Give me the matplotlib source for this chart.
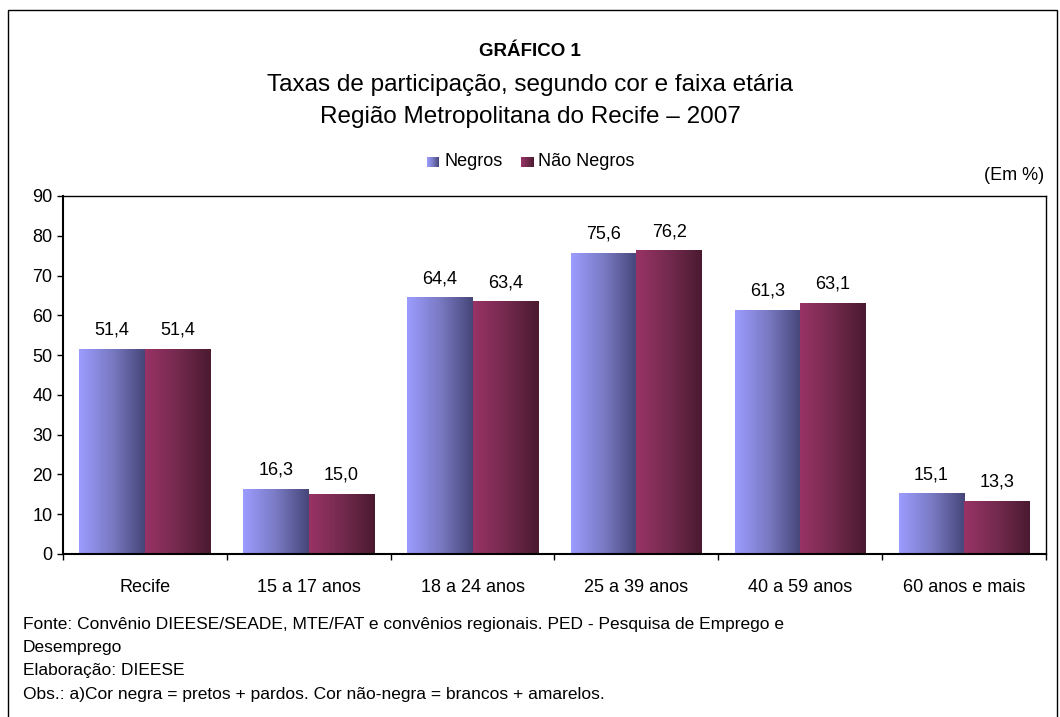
import numpy as np
import matplotlib
matplotlib.use("Agg")
import matplotlib.pyplot as plt
from matplotlib.colors import LinearSegmentedColormap
from matplotlib.patches import Rectangle

plt.rcParams['font.family'] = ['Liberation Sans', 'DejaVu Sans']

categorias = ['Recife', '15 a 17 anos', '18 a 24 anos', '25 a 39 anos', '40 a 59 anos', '60 anos e mais']
negros = [51.4, 16.3, 64.4, 75.6, 61.3, 15.1]
nao_negros = [51.4, 15.0, 63.4, 76.2, 63.1, 13.3]
series = ['Negros', 'Não Negros']
rotulos_y = [0, 10, 20, 30, 40, 50, 60, 70, 80, 90]

cmap_azul = LinearSegmentedColormap.from_list('azul', ['#9c9cff', '#7a7ac4', '#46467a'])
cmap_vinho = LinearSegmentedColormap.from_list('vinho', ['#993366', '#742a4e', '#4a1a30'])

W, H = 1060, 717
fig = plt.figure(figsize=(W/100, H/100), dpi=100)
ax = fig.add_axes([63/W, 1-554/H, 983/W, 358/H])

grad = np.linspace(0, 1, 256).reshape(1, -1)
larg = 0.40
x = np.arange(len(categorias))

def barra_gradiente(ax, x0, h, cmap):
    # barra com gradiente horizontal (estilo Excel)
    ax.imshow(grad, cmap=cmap, aspect='auto', extent=(x0, x0 + larg, 0, h),
              zorder=2, interpolation='bilinear')

for i in range(len(categorias)):
    barra_gradiente(ax, x[i] - larg, negros[i], cmap_azul)
    barra_gradiente(ax, x[i], nao_negros[i], cmap_vinho)
    ax.text(x[i] - larg/2, negros[i] + 4.8, f"{negros[i]:.1f}".replace('.', ','),
            ha='center', va='center', fontsize=13)
    ax.text(x[i] + larg/2, nao_negros[i] + 4.8, f"{nao_negros[i]:.1f}".replace('.', ','),
            ha='center', va='center', fontsize=13)

ax.set_xlim(-0.5, len(categorias) - 0.5)
ax.set_ylim(0, 90)
ax.set_yticks(rotulos_y)
ax.set_yticklabels([str(v) for v in rotulos_y], fontsize=13)
ax.set_xticks(x)
ax.set_xticklabels(categorias, fontsize=13)
ax.tick_params(axis='x', length=0, pad=18)
ax.set_xticks(np.arange(-0.5, len(categorias)), minor=True)
ax.tick_params(axis='x', which='minor', length=4.5, direction='out', width=1)
ax.tick_params(axis='y', length=4.5, direction='out', pad=3, width=1)
for s in ['top', 'right', 'left', 'bottom']:
    ax.spines[s].set_linewidth(1)
ax.spines['left'].set_linewidth(1.5)
ax.spines['bottom'].set_linewidth(1.5)

# títulos
fig.text(0.5, 1-52/H, 'GRÁFICO 1', ha='center', va='center', fontsize=13.5, fontweight='bold')
fig.text(0.5, 1-85/H, 'Taxas de participação, segundo cor e faixa etária', ha='center', va='center', fontsize=17.5)
fig.text(0.5, 1-117/H, 'Região Metropolitana do Recife – 2007', ha='center', va='center', fontsize=17.5)
fig.text(1044/W, 1-176/H, '(Em %)', ha='right', va='center', fontsize=13)

# legenda
leg_y = 1-162/H
for cm, nome, xx in [(cmap_azul, series[0], 427), (cmap_vinho, series[1], 521)]:
    lax = fig.add_axes([xx/W, leg_y - 5.5/H, 12/W, 11/H])
    lax.imshow(grad, cmap=cm, aspect='auto')
    lax.axis('off')
    fig.text((xx + 17)/W, leg_y, nome, ha='left', va='center', fontsize=13)

# notas
notas = ['Fonte: Convênio DIEESE/SEADE, MTE/FAT e convênios regionais. PED - Pesquisa de Emprego e',
         'Desemprego',
         'Elaboração: DIEESE',
         'Obs.: a)Cor negra = pretos + pardos. Cor não-negra = brancos + amarelos.']
for j, n in enumerate(notas):
    fig.text(23/W, 1-(624 + j*23.4)/H, n, ha='left', va='center', fontsize=12.5)

fig.patches.append(Rectangle((8/W, -0.01), 1049/W, 1-10/H + 0.01, transform=fig.transFigure,
                             fill=False, edgecolor='black', linewidth=1))

fig.savefig('out.png', dpi=100)
